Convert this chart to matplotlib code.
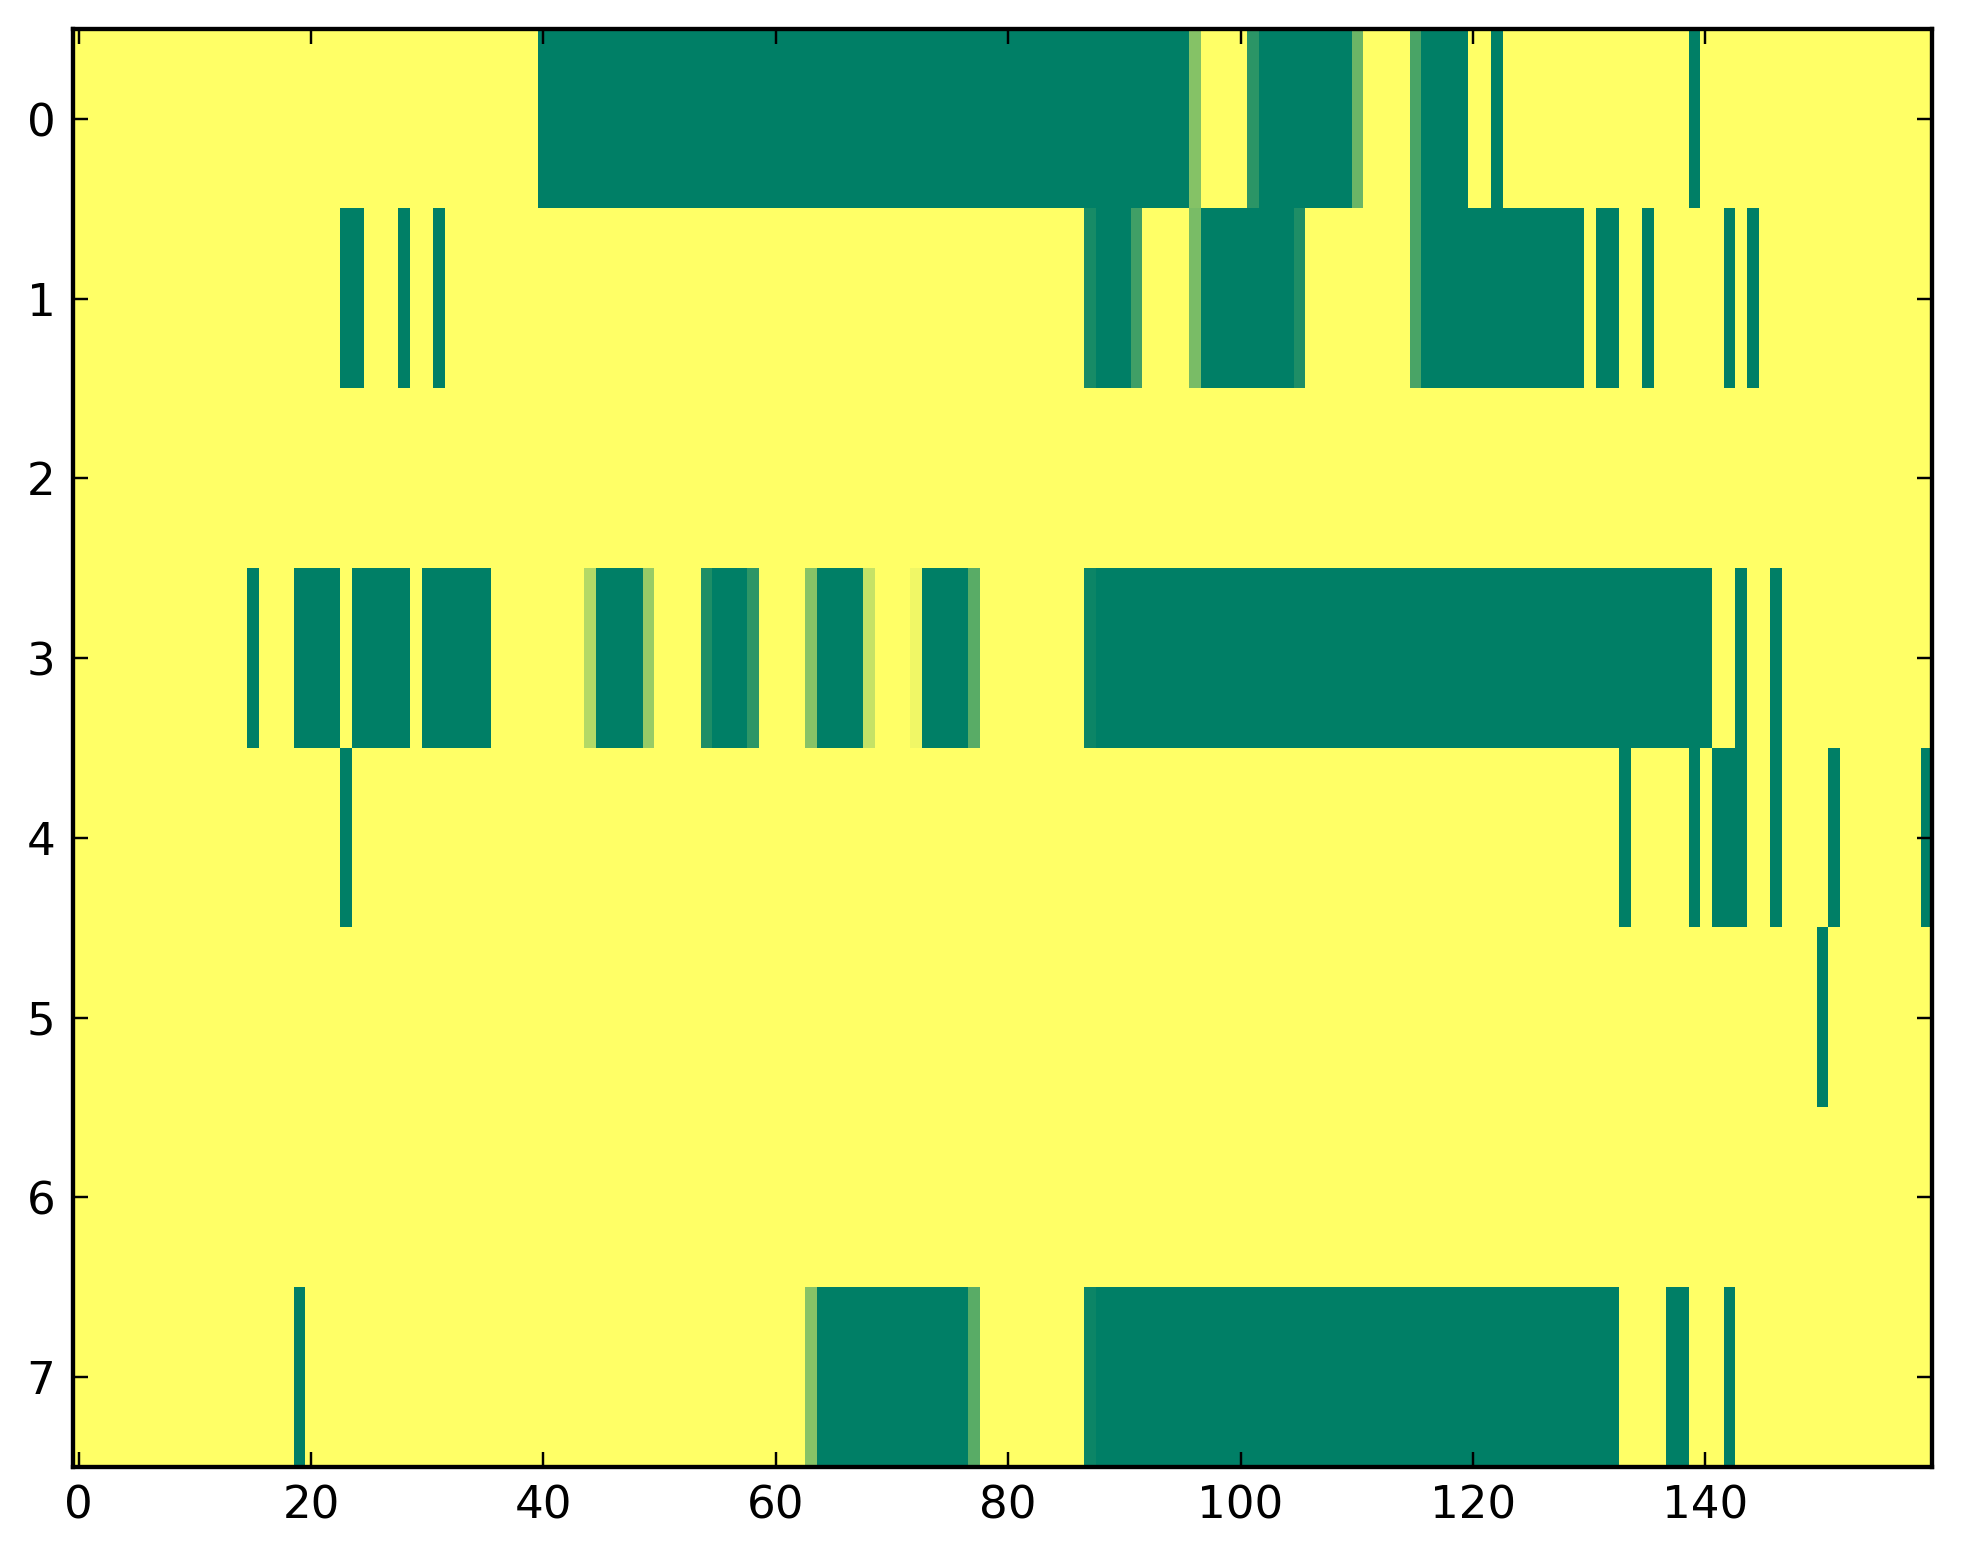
import numpy as np
import matplotlib
matplotlib.use('Agg')
import matplotlib.pyplot as plt

# 每行的取值：默认 1（黄色），下面列出 (起始列, 结束列, 值)
n_cols = 160
row0 = [(40, 95, 0), (96, 96, 0.52), (101, 101, 0.17), (102, 109, 0), (110, 110, 0.42),
        (115, 115, 0.29), (116, 119, 0), (122, 122, 0), (139, 139, 0)]
row1 = [(23, 24, 0), (28, 28, 0), (31, 31, 0), (87, 87, 0.09), (88, 90, 0), (91, 91, 0.25),
        (96, 96, 0.48), (97, 104, 0), (105, 105, 0.12), (115, 115, 0.29), (116, 129, 0),
        (131, 132, 0), (135, 135, 0), (142, 142, 0), (144, 144, 0)]
row2 = []
row3 = [(15, 15, 0), (19, 22, 0), (24, 28, 0), (30, 35, 0), (44, 44, 0.7), (45, 48, 0),
        (49, 49, 0.59), (54, 54, 0.12), (55, 57, 0), (58, 58, 0.18), (63, 63, 0.53),
        (64, 67, 0), (68, 68, 0.77), (72, 72, 0.94), (73, 76, 0), (77, 77, 0.35),
        (87, 87, 0.05), (88, 140, 0), (143, 143, 0), (146, 146, 0)]
row4 = [(23, 23, 0), (133, 133, 0), (139, 139, 0), (141, 143, 0), (146, 146, 0),
        (151, 151, 0), (159, 159, 0)]
row5 = [(150, 150, 0)]
row6 = []
row7 = [(19, 19, 0), (63, 63, 0.53), (64, 76, 0), (77, 77, 0.35), (87, 87, 0.05),
        (88, 132, 0), (137, 138, 0), (142, 142, 0)]

x_ticks = [0, 20, 40, 60, 80, 100, 120, 140]
y_ticks = [0, 1, 2, 3, 4, 5, 6, 7]

# 组装矩阵
rows = [row0, row1, row2, row3, row4, row5, row6, row7]
data = np.ones((len(rows), n_cols))
for r, runs in enumerate(rows):
    for a, b, v in runs:
        data[r, a:b + 1] = v

fig = plt.figure(figsize=(1963 / 250, 1564 / 250), dpi=250, facecolor='white')
ax = fig.add_axes([0.0371, 0.0622, 0.9471, 0.9191])
ax.imshow(data, cmap='summer', vmin=0, vmax=1, aspect='auto', interpolation='nearest')

ax.set_xticks(x_ticks)
ax.set_yticks(y_ticks)
ax.tick_params(direction='in', top=True, right=True, length=4.2, width=0.7, labelsize=13, pad=5)
for s in ax.spines.values():
    s.set_linewidth(1.25)

fig.savefig('out.png', dpi=250, facecolor='white')
